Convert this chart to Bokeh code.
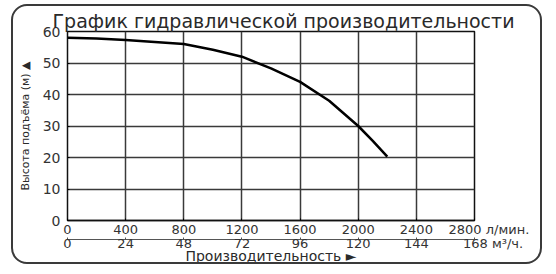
from bokeh.plotting import figure
from bokeh.models import Range1d, LinearAxis, FixedTicker
from bokeh.embed import file_html
from bokeh.resources import INLINE

# data
flow_lpm = [0, 200, 400, 600, 800, 1000, 1200, 1400, 1600, 1800, 2000, 2100, 2200]
head_m = [58, 57.8, 57.3, 56.7, 56, 54.2, 52, 48.3, 44, 38, 30, 25.3, 20.3]
x_ticks = [0, 400, 800, 1200, 1600, 2000, 2400, 2800]
x2_ticks = [0, 24, 48, 72, 96, 120, 144, 168]
y_ticks = [0, 10, 20, 30, 40, 50, 60]
title_text = "График гидравлической производительности"
y_label = "Высота подъёма (м) ▲"
x_label = "Производительность ►"
unit1 = "л/мин."
unit2 = "м³/ч."

FONT = "DejaVu Sans"
NB = "\u00a0"

p = figure(width=531, height=260, output_backend="svg", toolbar_location=None,
           x_range=Range1d(0, 2800), y_range=Range1d(0, 60),
           x_axis_location=None, y_axis_location=None,
           min_border_left=54, min_border_right=70, min_border_top=25, min_border_bottom=45)
p.margin = (4, 10, 6, 11)
p.styles = {"border": "2px solid #3a3a3a", "border-radius": "16px"}

p.title.text = title_text
p.title.align = "left"
p.title.offset = -15
p.title.standoff = -1
p.title.text_font = FONT
p.title.text_font_size = "19px"
p.title.text_font_style = "normal"
p.title.text_color = "#2a2a2a"

p.outline_line_color = "#111111"
p.outline_line_width = 1.5
p.background_fill_color = "white"
p.border_fill_color = None

ya = LinearAxis(ticker=FixedTicker(ticks=y_ticks), axis_label=y_label)
ya.major_tick_out = 0
ya.minor_tick_out = 0
ya.axis_line_color = None
ya.major_label_standoff = 7
ya.major_label_text_font = FONT
ya.major_label_text_font_size = "14px"
ya.major_label_text_color = "#333333"
ya.axis_label_text_font = FONT
ya.axis_label_text_font_size = "11px"
ya.axis_label_text_font_style = "normal"
ya.axis_label_text_color = "#2a2a2a"
ya.axis_label_standoff = 8
p.add_layout(ya, "left")

xa = LinearAxis(ticker=FixedTicker(ticks=x_ticks))
xa.major_label_overrides = {2800: NB * 7 + "2800 " + unit1}
xa.major_tick_out = 0
xa.minor_tick_out = 0
xa.axis_line_color = "#111111"
xa.axis_line_width = 1.5
xa.major_label_standoff = 1
xa.major_label_text_font = FONT
xa.major_label_text_font_size = "13px"
xa.major_label_text_color = "#333333"
p.add_layout(xa, "below")

p.extra_x_ranges = {"m3h": Range1d(0, 168)}
xb = LinearAxis(x_range_name="m3h", ticker=FixedTicker(ticks=x2_ticks), axis_label=x_label)
xb.major_label_overrides = {168: NB * 9 + "168 " + unit2}
xb.major_tick_out = 0
xb.major_tick_in = 2
xb.minor_tick_out = 0
xb.axis_line_color = "#555555"
xb.major_tick_line_color = "#555555"
xb.major_label_standoff = -4
xb.major_label_text_font = FONT
xb.major_label_text_font_size = "13px"
xb.major_label_text_color = "#333333"
xb.axis_label_text_font = FONT
xb.axis_label_text_font_size = "14px"
xb.axis_label_text_font_style = "normal"
xb.axis_label_text_color = "#2a2a2a"
xb.axis_label_standoff = -6
p.add_layout(xb, "below")

p.xgrid.ticker = FixedTicker(ticks=x_ticks)
p.ygrid.ticker = FixedTicker(ticks=y_ticks)
for g in (p.xgrid, p.ygrid):
    g.grid_line_color = "#3a3a3a"
    g.grid_line_width = 1.5
    g.grid_line_alpha = 1

p.line(flow_lpm, head_m, line_color="black", line_width=2.5)

open("out.html", "w").write(file_html(p, INLINE))
